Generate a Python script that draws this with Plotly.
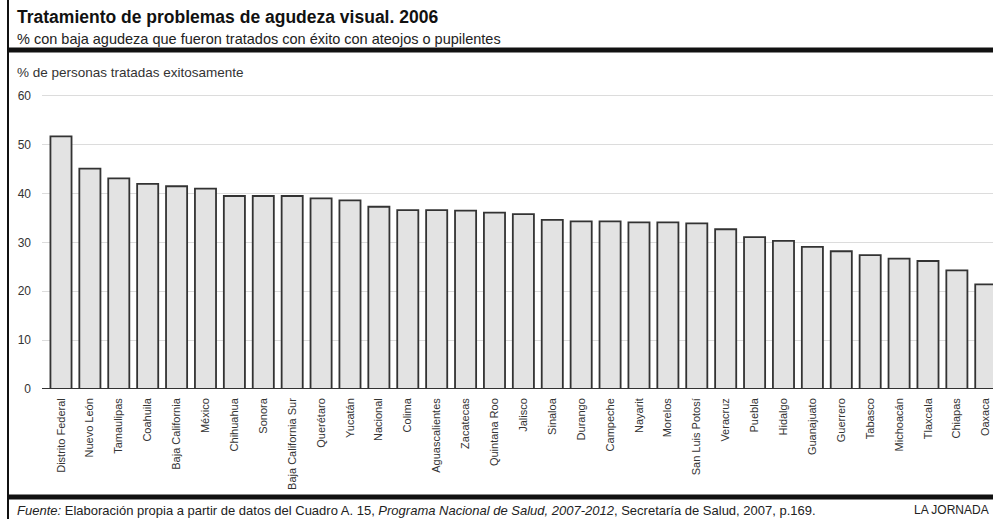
import plotly.graph_objects as go

estados = ["Distrito Federal", "Nuevo León", "Tamaulipas", "Coahuila", "Baja California",
           "México", "Chihuahua", "Sonora", "Baja California Sur", "Querétaro", "Yucatán",
           "Nacional", "Colima", "Aguascalientes", "Zacatecas", "Quintana Roo", "Jalisco",
           "Sinaloa", "Durango", "Campeche", "Nayarit", "Morelos", "San Luis Potosí",
           "Veracruz", "Puebla", "Hidalgo", "Guanajuato", "Guerrero", "Tabasco",
           "Michoacán", "Tlaxcala", "Chiapas", "Oaxaca"]
porcentajes = [51.7, 45.1, 43.1, 42.0, 41.5, 41.0, 39.5, 39.5, 39.5, 39.0, 38.6,
               37.3, 36.6, 36.6, 36.5, 36.1, 35.8, 34.6, 34.3, 34.3, 34.1, 34.1, 33.9,
               32.7, 31.1, 30.3, 29.1, 28.2, 27.4, 26.7, 26.2, 24.3, 21.4]
y_ticks = [0, 10, 20, 30, 40, 50, 60]

titulo = "Tratamiento de problemas de agudeza visual. 2006"
subtitulo = "% con baja agudeza que fueron tratados con éxito con ateojos o pupilentes"
eje_y = "% de personas tratadas exitosamente"
fuente = ("<i>Fuente:</i> Elaboración propia a partir de datos del Cuadro A. 15, "
          "<i>Programa Nacional de Salud, 2007-2012</i>, Secretaría de Salud, 2007, p.169.")
credito = "LA JORNADA"

W, H = 993, 519
L, R, T, B = 42, 993, 90, 389
PW, PH = R - L, B - T


def px(x):
    return (x - L) / PW


def py(y):
    return (B - y) / PH


FONT = "Liberation Sans, Arial, sans-serif"

fig = go.Figure()
fig.add_trace(go.Bar(
    x=estados, y=porcentajes, width=0.73,
    marker=dict(color="#e3e3e3", line=dict(color="#333333", width=1.8)),
    hoverinfo="x+y",
))

fig.update_layout(
    width=W, height=H,
    margin=dict(l=L, r=W - R, t=T, b=H - B),
    paper_bgcolor="white", plot_bgcolor="white",
    showlegend=False,
    font=dict(family=FONT, color="#222"),
    xaxis=dict(
        type="category", range=[-0.657, 32.25],
        tickangle=-90, tickfont=dict(size=11, color="#333"),
        showgrid=False, zeroline=False, showline=False,
        ticks="", ticklabelstandoff=6,
    ),
    yaxis=dict(
        range=[0, 61.2], tickvals=y_ticks,
        tickfont=dict(size=12, color="#333"),
        showgrid=True, gridcolor="#dcdcdc", gridwidth=1,
        zeroline=False, showline=False, ticks="", ticklabelstandoff=10,
    ),
)

shapes = [
    dict(type="line", xref="paper", yref="paper", x0=px(8), x1=px(8), y0=py(0), y1=py(519),
         line=dict(color="#111", width=2)),
    dict(type="line", xref="paper", yref="paper", x0=px(9), x1=px(993), y0=py(50), y1=py(50),
         line=dict(color="#111", width=5)),
    dict(type="line", xref="paper", yref="paper", x0=px(9), x1=px(993), y0=py(497), y1=py(497),
         line=dict(color="#111", width=5)),
    dict(type="line", xref="paper", yref="y", x0=0, x1=1, y0=0, y1=0,
         line=dict(color="#333", width=2)),
]
fig.update_layout(shapes=shapes)

ann = [
    dict(text="<b>" + titulo + "</b>", x=px(15), y=py(5), xanchor="left", yanchor="top",
         font=dict(size=17.5, color="#111")),
    dict(text=subtitulo, x=px(15), y=py(29), xanchor="left", yanchor="top",
         font=dict(size=14.5, color="#222")),
    dict(text=eje_y, x=px(15), y=py(72), xanchor="left", yanchor="middle",
         font=dict(size=13.5, color="#333")),
    dict(text=fuente, x=px(15), y=py(510), xanchor="left", yanchor="middle",
         font=dict(size=13, color="#222")),
    dict(text=credito, x=px(991), y=py(510), xanchor="right", yanchor="middle",
         font=dict(size=12, color="#222")),
]
for a in ann:
    a.update(xref="paper", yref="paper", showarrow=False)
fig.update_layout(annotations=ann)

fig.write_html("out.html")
